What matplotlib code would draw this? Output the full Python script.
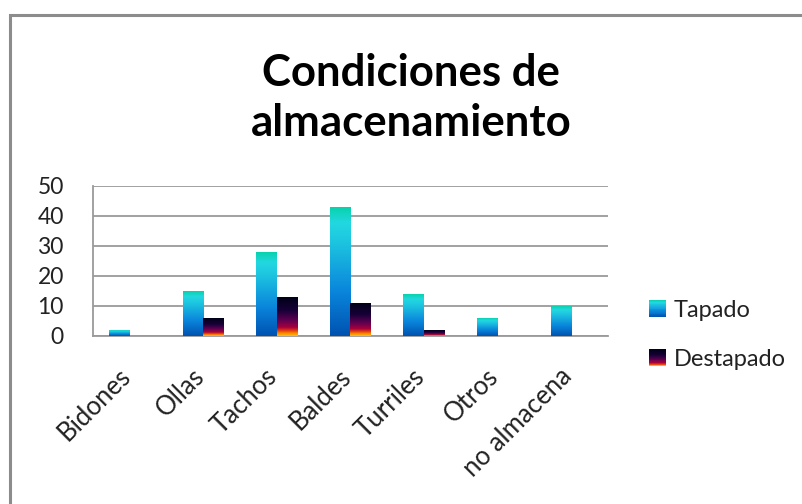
import matplotlib
matplotlib.use("Agg")
import matplotlib.pyplot as plt
import matplotlib.transforms as mtransforms
import numpy as np
from matplotlib.colors import LinearSegmentedColormap
from matplotlib.patches import Rectangle
from matplotlib.legend_handler import HandlerBase

categories = ["Bidones", "Ollas", "Tachos", "Baldes", "Turriles", "Otros", "no almacena"]
tapado = [2, 15, 28, 43, 14, 6, 10]
destapado = [0, 6, 13, 11, 2, 0, 0]
series_names = ["Tapado", "Destapado"]
yticks = [0, 10, 20, 30, 40, 50]

FONT = ["Lato", "DejaVu Sans"]
plt.rcParams["font.family"] = FONT

cmap_tap = LinearSegmentedColormap.from_list("tap", [
    (0.0, "#0052b0"), (0.35, "#0a86dc"), (0.75, "#1ec8e0"), (0.88, "#22d8e0"), (1.0, "#08d2ac")])
cmap_des = LinearSegmentedColormap.from_list("des", [
    (0.0, "#ffc400"), (0.07, "#ff8a00"), (0.14, "#e03a10"), (0.22, "#a8003c"),
    (0.4, "#600050"), (0.65, "#180038"), (1.0, "#000018")])

fig = plt.figure(figsize=(8.03, 5.04), dpi=100)
ax = fig.add_axes([93/803, 1-336/504, (608-93)/803, (336-186)/504])

x = np.arange(len(categories))
w = 0.28
grad = np.linspace(0, 1, 256).reshape(-1, 1)

def grad_bars(xpos, vals, cmap):
    bars = ax.bar(xpos, vals, width=w, color="none", edgecolor="none", zorder=3)
    for b in bars:
        h = b.get_height()
        if h <= 0:
            continue
        x0 = b.get_x()
        im = ax.imshow(grad, extent=[x0, x0 + b.get_width(), 0, h], origin="lower",
                       aspect="auto", cmap=cmap, zorder=3, interpolation="bilinear")
        im.set_clip_path(b)
    return bars

b1 = grad_bars(x - w/2, tapado, cmap_tap)
b2 = grad_bars(x + w/2, destapado, cmap_des)

ax.set_xlim(-0.5, len(categories) - 0.5)
ax.set_ylim(0, 50)
ax.set_yticks(yticks)
ax.set_yticklabels([str(t) for t in yticks], fontsize=16.5, color="#222222")
ax.set_xticks(x)
ax.set_xticklabels(categories, rotation=45, ha="right", rotation_mode="anchor",
                   fontsize=18.5, color="#222222")
ax.tick_params(axis="x", length=0, pad=20)
ax.tick_params(axis="y", length=0, pad=21)
shift = mtransforms.ScaledTranslation(-12/100, 0, fig.dpi_scale_trans)
for t in ax.get_xticklabels():
    t.set_transform(t.get_transform() + shift)
ax.grid(axis="y", color="#9a9a9a", lw=1.3, zorder=0)
ax.set_axisbelow(True)
for s in ["top", "right"]:
    ax.spines[s].set_visible(False)
for s in ["left", "bottom"]:
    ax.spines[s].set_color("#9a9a9a")
    ax.spines[s].set_linewidth(1.3)

class GradHandler(HandlerBase):
    def __init__(self, cmap):
        super().__init__()
        self.cmap = cmap
    def create_artists(self, legend, orig_handle, xdescent, ydescent, width, height, fontsize, trans):
        n = 20
        s = height
        x0 = (width - s) / 2 - xdescent
        arts = []
        for i in range(n):
            r = Rectangle((x0, -ydescent + s * i / n), s, s / n + 0.2,
                          facecolor=self.cmap((i + 0.5) / n), edgecolor="none", transform=trans)
            arts.append(r)
        return arts

h1 = Rectangle((0, 0), 1, 1)
h2 = Rectangle((0, 0), 1, 1)
leg = fig.legend([h1, h2], series_names, loc="center left", bbox_to_anchor=(628/803, 1-335/504),
                 frameon=False, fontsize=17, labelspacing=1.2, handlelength=0.7, handleheight=0.7,
                 handletextpad=0.35,
                 handler_map={h1: GradHandler(cmap_tap), h2: GradHandler(cmap_des)})
for t in leg.get_texts():
    t.set_color("#222222")

fig.text(411/803, 1-98/504, "Condiciones de\nalmacenamiento", ha="center", va="center",
         fontsize=31.5, fontweight="bold", color="#000000", linespacing=1.3)

fig.add_artist(Rectangle((10/803, -0.1), 1.2, 1 - 15/504 + 0.1, transform=fig.transFigure,
                         facecolor="none", edgecolor="#8c8c8c", lw=2.2))

fig.savefig("out.png", dpi=100)
